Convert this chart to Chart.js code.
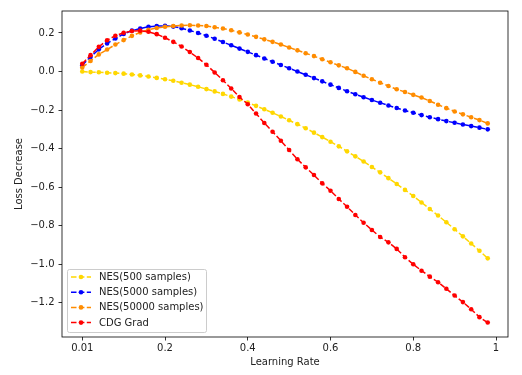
<!DOCTYPE html>
<html>
<head>
<meta charset="utf-8">
<script src="https://cdn.jsdelivr.net/npm/chart.js@4"></script>
<style>
  html, body { margin: 0; padding: 0; background: #fff; }
  #wrap { width: 522px; height: 375px; }
</style>
</head>
<body>
<div id="wrap"><canvas id="lossChart"></canvas></div>
<script>
// x positions of the samples (axis runs 0..1, first tick is labelled 0.01)
const learningRates = [
  0.00, 0.02, 0.04, 0.06, 0.08, 0.10, 0.12, 0.14, 0.16, 0.18,
  0.20, 0.22, 0.24, 0.26, 0.28, 0.30, 0.32, 0.34, 0.36, 0.38,
  0.40, 0.42, 0.44, 0.46, 0.48, 0.50, 0.52, 0.54, 0.56, 0.58,
  0.60, 0.62, 0.64, 0.66, 0.68, 0.70, 0.72, 0.74, 0.76, 0.78,
  0.80, 0.82, 0.84, 0.86, 0.88, 0.90, 0.92, 0.94, 0.96, 0.98
];

const nes500 = [
  0.000, -0.003, -0.004, -0.006, -0.008, -0.011, -0.015, -0.020, -0.026, -0.033,
  -0.040, -0.048, -0.058, -0.068, -0.079, -0.091, -0.103, -0.116, -0.130, -0.145,
  -0.161, -0.178, -0.196, -0.214, -0.233, -0.253, -0.273, -0.294, -0.317, -0.340,
  -0.364, -0.388, -0.414, -0.440, -0.467, -0.495, -0.523, -0.553, -0.583, -0.614,
  -0.646, -0.679, -0.713, -0.747, -0.782, -0.818, -0.855, -0.892, -0.930, -0.969
];

const nes5000 = [
  0.033, 0.076, 0.115, 0.146, 0.171, 0.195, 0.212, 0.223, 0.232, 0.236,
  0.237, 0.233, 0.225, 0.213, 0.200, 0.186, 0.170, 0.153, 0.136, 0.119,
  0.102, 0.085, 0.068, 0.051, 0.034, 0.017, 0.000, -0.017, -0.034, -0.051,
  -0.068, -0.085, -0.102, -0.118, -0.133, -0.148, -0.162, -0.176, -0.189, -0.202,
  -0.214, -0.226, -0.237, -0.247, -0.257, -0.266, -0.275, -0.283, -0.291, -0.300
];

const nes50000 = [
  0.021, 0.055, 0.089, 0.114, 0.140, 0.163, 0.185, 0.203, 0.217, 0.226,
  0.232, 0.236, 0.239, 0.240, 0.239, 0.236, 0.230, 0.223, 0.214, 0.203,
  0.192, 0.180, 0.167, 0.154, 0.140, 0.125, 0.110, 0.095, 0.080, 0.064,
  0.048, 0.032, 0.017, -0.002, -0.022, -0.040, -0.058, -0.075, -0.092, -0.106,
  -0.121, -0.135, -0.153, -0.172, -0.190, -0.207, -0.222, -0.237, -0.252, -0.269
];

const cdgGrad = [
  0.040, 0.085, 0.128, 0.162, 0.186, 0.201, 0.210, 0.212, 0.206, 0.194,
  0.175, 0.154, 0.130, 0.101, 0.070, 0.035, -0.005, -0.045, -0.088, -0.132,
  -0.170, -0.218, -0.267, -0.312, -0.359, -0.407, -0.455, -0.497, -0.537, -0.580,
  -0.618, -0.661, -0.701, -0.744, -0.784, -0.822, -0.858, -0.886, -0.920, -0.963,
  -1.000, -1.033, -1.064, -1.093, -1.127, -1.162, -1.196, -1.233, -1.274, -1.302
];

const seriesLabels = ['NES(500 samples)', 'NES(5000 samples)', 'NES(50000 samples)', 'CDG Grad'];
const seriesColors = ['#ffd700', '#0000ff', '#ff8c00', '#ff0000'];
const seriesValues = [nes500, nes5000, nes50000, cdgGrad];

const xTickValues = [0, 0.2, 0.4, 0.6, 0.8, 1.0];
const xTickLabels = ['0.01', '0.2', '0.4', '0.6', '0.8', '1'];
const yTickValues = [-1.2, -1.0, -0.8, -0.6, -0.4, -0.2, 0.0, 0.2];

const FONT = { family: 'DejaVu Sans', size: 10 };
const DASH = [5.5, 2.4];

// box round the plot area (matplotlib style spines)
const framePlugin = {
    id: 'frame',
    afterDraw(chart) {
        const { ctx, chartArea: a } = chart;
        ctx.save();
        ctx.strokeStyle = '#000';
        ctx.lineWidth = 0.8;
        ctx.strokeRect(a.left, a.top, a.right - a.left, a.bottom - a.top);
        ctx.restore();
    }
};

// legend box in the lower left corner of the plot
const legendPlugin = {
    id: 'innerLegend',
    afterDraw(chart) {
        const { ctx, chartArea: a } = chart;
        const x = a.left + 5, w = 139, rowH = 15.2;
        const h = 63;
        const y = a.bottom - 5 - h;
        ctx.save();
        ctx.fillStyle = 'rgba(255,255,255,0.8)';
        ctx.strokeStyle = '#cccccc';
        ctx.lineWidth = 1;
        ctx.beginPath();
        ctx.roundRect(x + 0.5, y + 0.5, w, h, 2);
        ctx.fill();
        ctx.stroke();
        ctx.font = '10px "DejaVu Sans"';
        ctx.textBaseline = 'middle';
        seriesLabels.forEach((label, i) => {
            const cy = y + 8 + i * rowH;
            ctx.strokeStyle = seriesColors[i];
            ctx.lineWidth = 1.5;
            ctx.setLineDash(DASH);
            ctx.beginPath();
            ctx.moveTo(x + 4, cy);
            ctx.lineTo(x + 24, cy);
            ctx.stroke();
            ctx.setLineDash([]);
            ctx.fillStyle = seriesColors[i];
            ctx.beginPath();
            ctx.arc(x + 14, cy, 2.3, 0, Math.PI * 2);
            ctx.fill();
            ctx.fillStyle = '#222';
            ctx.fillText(label, x + 32, cy + 0.5);
        });
        ctx.restore();
    }
};

const datasets = seriesLabels.map((label, i) => ({
    label: label,
    data: learningRates.map((lr, j) => ({ x: lr, y: seriesValues[i][j] })),
    borderColor: seriesColors[i],
    backgroundColor: seriesColors[i],
    borderWidth: 1.5,
    borderDash: DASH,
    pointRadius: 2.3,
    pointBorderWidth: 0,
    pointBackgroundColor: seriesColors[i],
    tension: 0,
    order: seriesLabels.length - i
}));

const tickGrid = {
    display: true,
    drawOnChartArea: false,
    drawTicks: true,
    tickLength: 3.5,
    tickWidth: 0.8,
    color: '#000'
};

new Chart(document.getElementById('lossChart'), {
    type: 'line',
    data: { datasets: datasets },
    options: {
        responsive: true,
        maintainAspectRatio: false,
        animation: false,
        layout: { padding: { top: 11, right: 14, left: 0, bottom: 0 } },
        plugins: {
            legend: { display: false },
            tooltip: { enabled: false }
        },
        scales: {
            x: {
                type: 'linear',
                min: -0.049,
                max: 1.029,
                border: { display: false },
                grid: tickGrid,
                afterBuildTicks(scale) {
                    scale.ticks = xTickValues.map(v => ({ value: v }));
                },
                afterFit(scale) { scale.height = 38; },
                ticks: {
                    font: FONT,
                    color: '#222',
                    padding: 2,
                    maxRotation: 0,
                    callback(value) {
                        const k = xTickValues.indexOf(value);
                        return k >= 0 ? xTickLabels[k] : '';
                    }
                },
                title: {
                    display: true,
                    text: 'Learning Rate',
                    font: FONT,
                    color: '#222',
                    padding: { top: 0, bottom: 7 }
                }
            },
            y: {
                min: -1.377,
                max: 0.314,
                border: { display: false },
                grid: tickGrid,
                afterBuildTicks(scale) {
                    scale.ticks = yTickValues.map(v => ({ value: v }));
                },
                afterFit(scale) { scale.width = 62; },
                ticks: {
                    font: FONT,
                    color: '#222',
                    padding: 4,
                    callback(value) {
                        return value.toFixed(1).replace('-', '\u2212');
                    }
                },
                title: {
                    display: true,
                    text: 'Loss Decrease',
                    font: FONT,
                    color: '#222',
                    padding: { top: 13, bottom: 0 }
                }
            }
        }
    },
    plugins: [framePlugin, legendPlugin]
});
</script>
</body>
</html>
